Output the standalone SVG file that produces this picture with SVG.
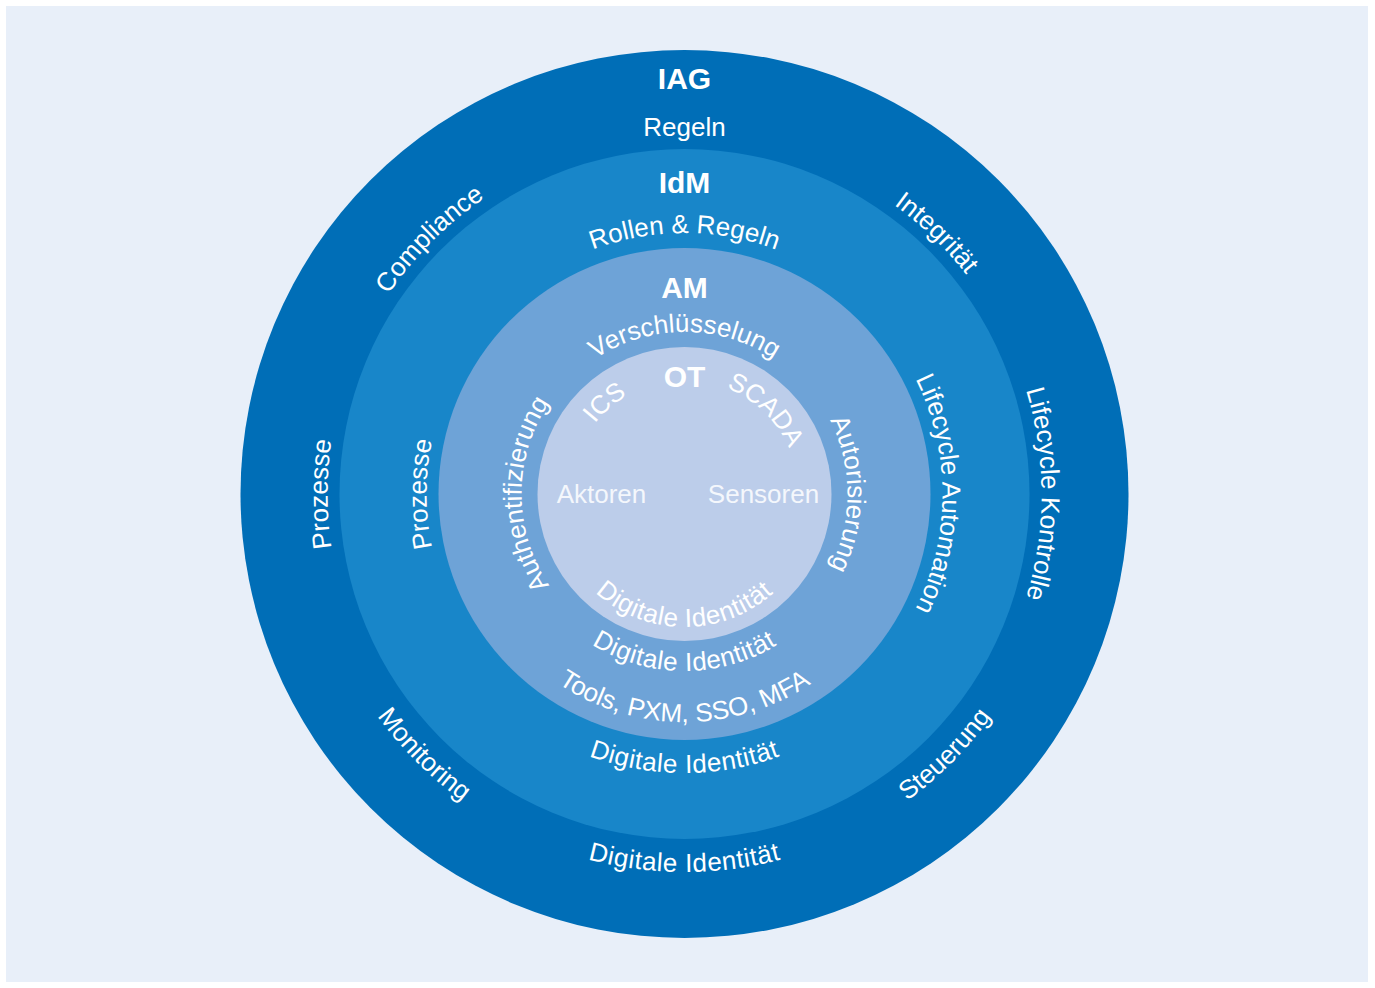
<svg xmlns="http://www.w3.org/2000/svg" xmlns:xlink="http://www.w3.org/1999/xlink" width="1375" height="988" viewBox="0 0 1375 988">
<style>
.t{font-family:"Liberation Sans",Arial,Helvetica,sans-serif;font-size:26px;fill:#ffffff;text-anchor:middle}
.h{font-family:"Liberation Sans",Arial,Helvetica,sans-serif;font-size:30px;font-weight:bold;fill:#ffffff;text-anchor:middle}
.soft{fill:#f4f7fc}
.w{letter-spacing:0.5px}
</style>
<defs>
<path id="pCompliance" d="M392.06,698.77 A357,357 0 0 1 889.27,201.56"/>
<path id="pIntegritaet" d="M474.66,205.18 A357,357 0 0 1 980.47,693.63"/>
<path id="pProzIAG" d="M622.51,845.58 A357,357 0 0 1 622.51,142.42"/>
<path id="pLKontrolle" d="M746.49,142.42 A357,357 0 0 1 746.49,845.58"/>
<path id="pMonitoring" d="M374.04,276.61 A379,379 0 0 0 901.89,804.46"/>
<path id="pSteuerung" d="M467.11,804.46 A379,379 0 0 0 994.96,276.61"/>
<path id="pDigIAG" d="M312.24,559.64 A378,378 0 0 0 1056.76,559.64"/>
<path id="pRollen" d="M427.46,448.68 A261,261 0 0 1 941.54,448.68"/>
<path id="pProzIdM" d="M639.70,748.08 A258,258 0 0 1 639.70,239.92"/>
<path id="pLAuto" d="M729.30,239.92 A258,258 0 0 1 729.30,748.08"/>
<path id="pDigIdM" d="M409.74,542.45 A279,279 0 0 0 959.26,542.45"/>
<path id="pVersch" d="M524.96,465.87 A162,162 0 0 1 844.04,465.87"/>
<path id="pAuthent" d="M656.20,654.52 A163,163 0 0 1 656.20,333.48"/>
<path id="pAutor" d="M712.80,333.48 A163,163 0 0 1 712.80,654.52"/>
<path id="pDigAM" d="M510.19,524.74 A177,177 0 0 0 858.81,524.74"/>
<path id="pTools" d="M459.96,533.59 A228,228 0 0 0 909.04,533.59"/>
<path id="pICS" d="M586.78,552.71 A114,114 0 0 1 756.24,405.40"/>
<path id="pSCADA" d="M617.49,401.77 A114,114 0 0 1 779.01,557.75"/>
<path id="pDigOT" d="M553.52,517.10 A133,133 0 0 0 815.48,517.10"/>
</defs>
<rect x="0" y="0" width="1375" height="988" fill="#ffffff"/>
<rect x="6" y="6" width="1362" height="976" fill="#e8eff9"/>

<g id="iag">
<circle cx="684.5" cy="494" r="444" fill="#006eb7"/>
<text class="h" x="684.5" y="89">IAG</text>
<text class="t" x="684.5" y="136">Regeln</text>
<text class="t"><textPath href="#pCompliance" xlink:href="#pCompliance" startOffset="50%">Compliance</textPath></text>
<text class="t"><textPath href="#pIntegritaet" xlink:href="#pIntegritaet" startOffset="50%">Integrität</textPath></text>
<text class="t"><textPath href="#pProzIAG" xlink:href="#pProzIAG" startOffset="50%">Prozesse</textPath></text>
<text class="t"><textPath href="#pLKontrolle" xlink:href="#pLKontrolle" startOffset="50%">Lifecycle Kontrolle</textPath></text>
<text class="t"><textPath href="#pMonitoring" xlink:href="#pMonitoring" startOffset="50%">Monitoring</textPath></text>
<text class="t"><textPath href="#pSteuerung" xlink:href="#pSteuerung" startOffset="50%">Steuerung</textPath></text>
<text class="t w"><textPath href="#pDigIAG" xlink:href="#pDigIAG" startOffset="50%">Digitale Identität</textPath></text>
</g>

<g id="idm">
<circle cx="684.5" cy="494" r="345" fill="#1886c9"/>
<text class="h" x="684.5" y="193">IdM</text>
<text class="t"><textPath href="#pRollen" xlink:href="#pRollen" startOffset="50%">Rollen &amp; Regeln</textPath></text>
<text class="t"><textPath href="#pProzIdM" xlink:href="#pProzIdM" startOffset="50%">Prozesse</textPath></text>
<text class="t"><textPath href="#pLAuto" xlink:href="#pLAuto" startOffset="50%">Lifecycle Automation</textPath></text>
<text class="t w"><textPath href="#pDigIdM" xlink:href="#pDigIdM" startOffset="50%">Digitale Identität</textPath></text>
</g>

<g id="am">
<circle cx="684.5" cy="494" r="246" fill="#6ea3d7"/>
<text class="h" x="684.5" y="298">AM</text>
<text class="t"><textPath href="#pVersch" xlink:href="#pVersch" startOffset="50%">Verschlüsselung</textPath></text>
<text class="t"><textPath href="#pAuthent" xlink:href="#pAuthent" startOffset="50%">Authentifizierung</textPath></text>
<text class="t"><textPath href="#pAutor" xlink:href="#pAutor" startOffset="50%">Autorisierung</textPath></text>
<text class="t w"><textPath href="#pDigAM" xlink:href="#pDigAM" startOffset="50%">Digitale Identität</textPath></text>
<text class="t"><textPath href="#pTools" xlink:href="#pTools" startOffset="50%">Tools, PXM, SSO, MFA</textPath></text>
</g>

<g id="ot">
<circle cx="684.5" cy="494" r="147" fill="#bccdea"/>
<text class="h" x="684.5" y="387">OT</text>
<text class="t"><textPath href="#pICS" xlink:href="#pICS" startOffset="50%">ICS</textPath></text>
<text class="t"><textPath href="#pSCADA" xlink:href="#pSCADA" startOffset="50%">SCADA</textPath></text>
<text class="t soft" x="601.5" y="502.5">Aktoren</text>
<text class="t soft" x="763.5" y="502.5">Sensoren</text>
<text class="t w"><textPath href="#pDigOT" xlink:href="#pDigOT" startOffset="50%">Digitale Identität</textPath></text>
</g>
</svg>
